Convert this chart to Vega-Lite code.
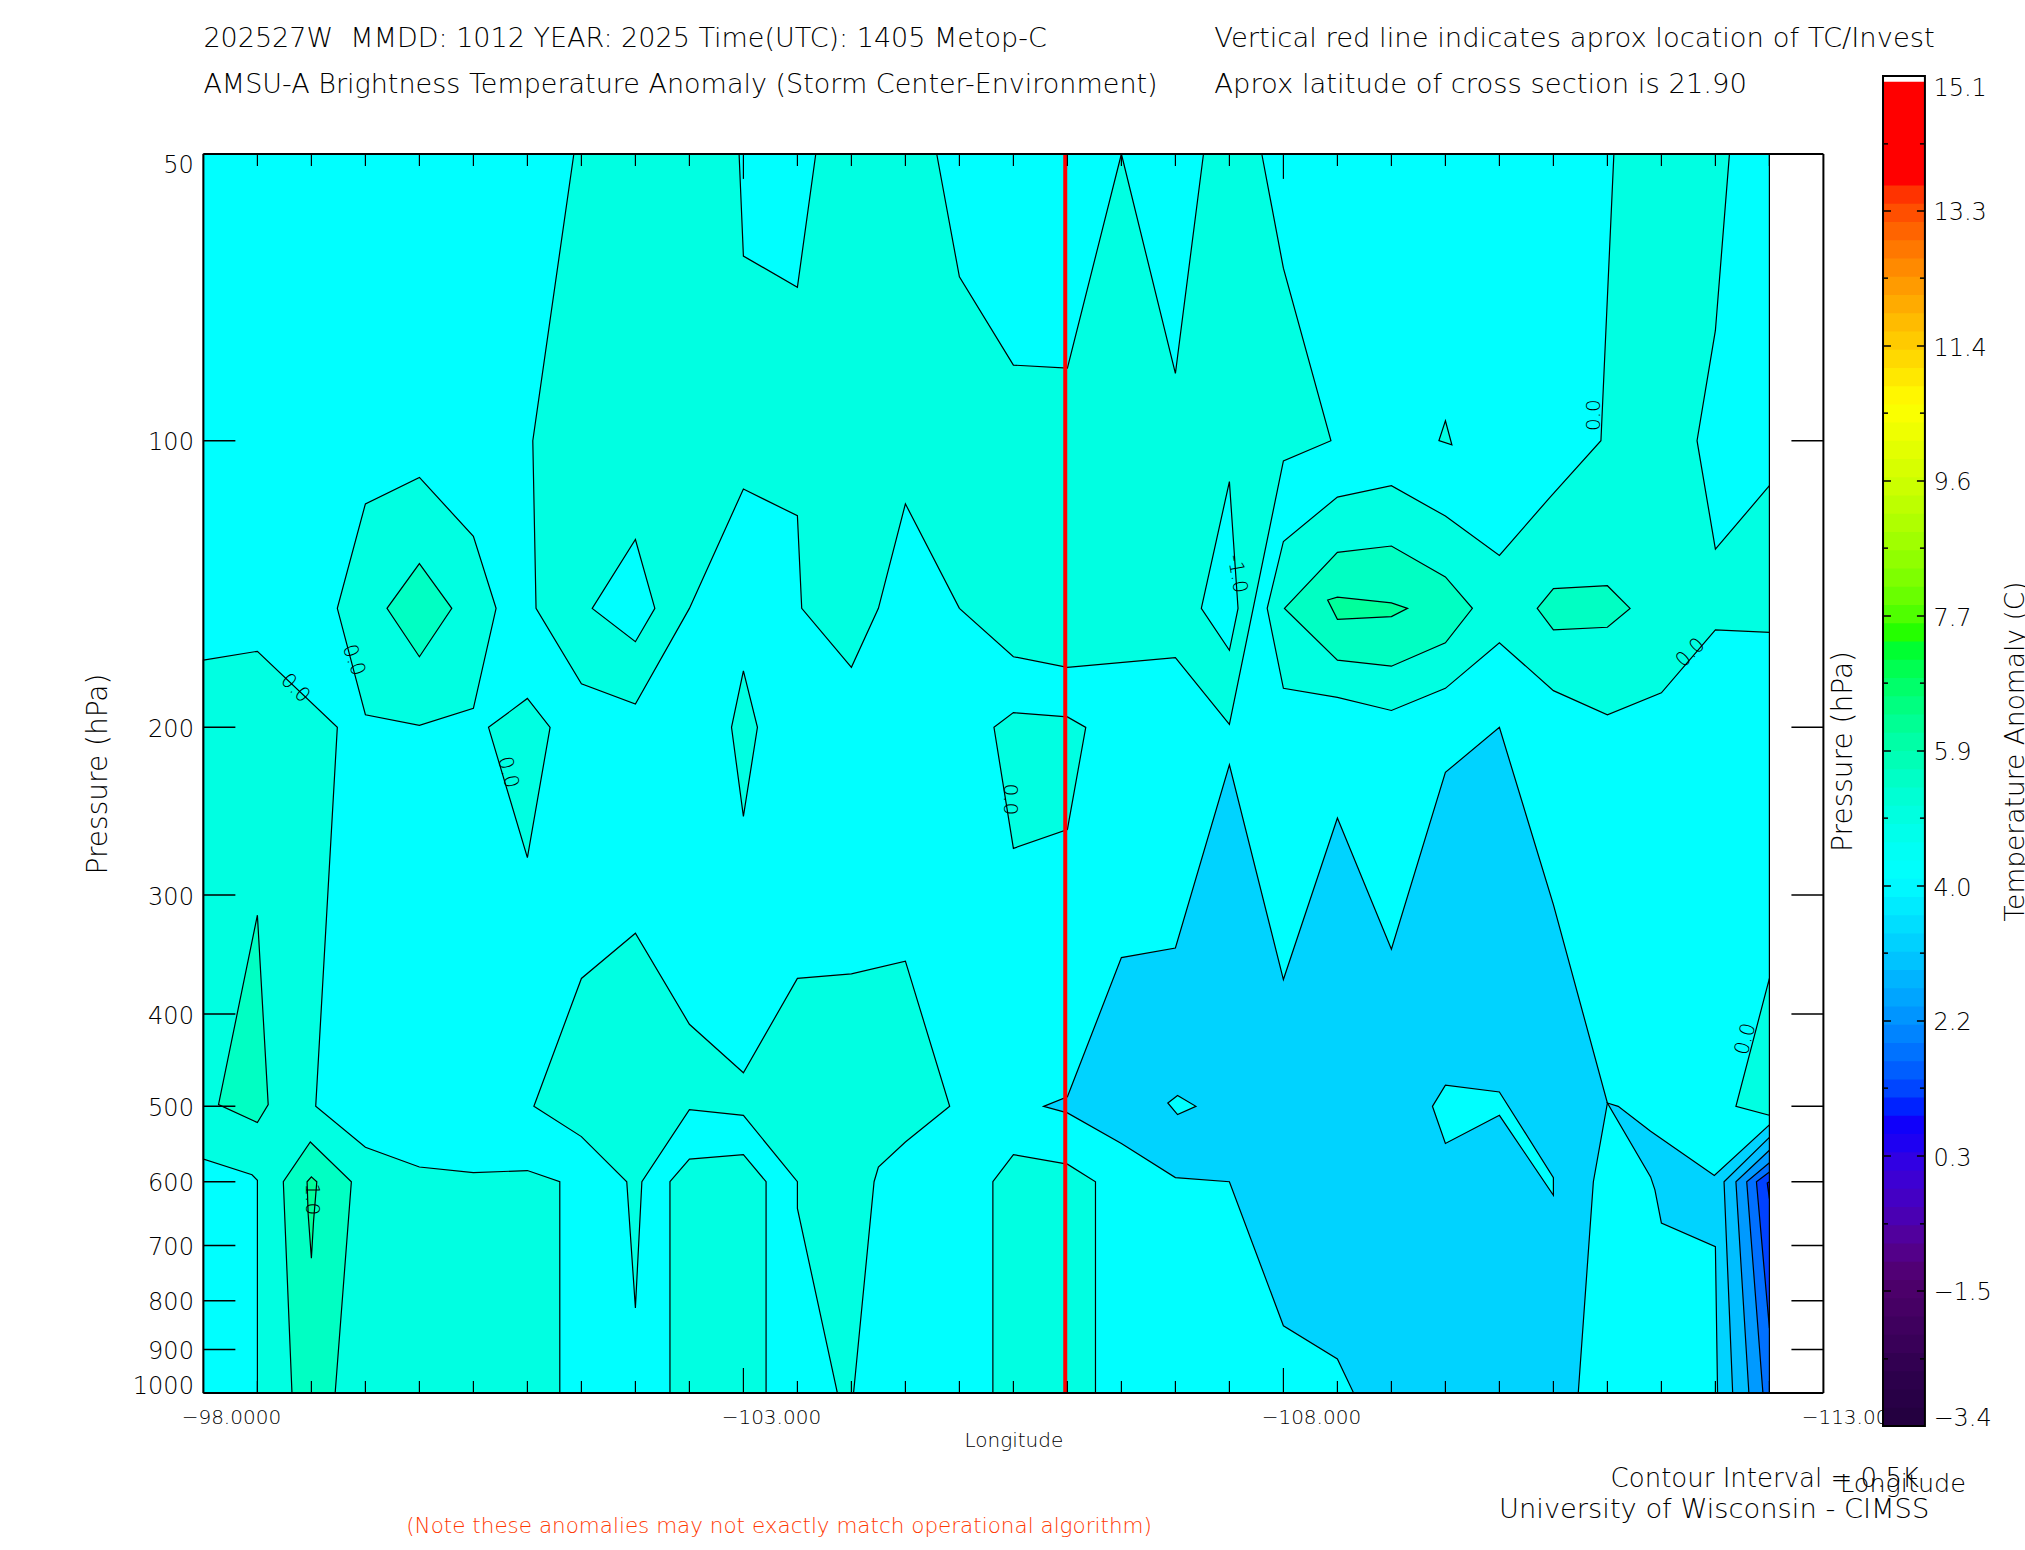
{
"$schema":"https://vega.github.io/schema/vega-lite/v6.json",
"width":1620,"height":1239,
"autosize":{"type":"none"},
"padding":{"left":203.4,"top":154,"right":201.6,"bottom":157},
"background":"white",
"config":{"font":"DejaVu Sans","view":{"stroke":null},"axis":{"labelFontWeight":200,"titleFontWeight":200,"labelColor":"#000","titleColor":"#000"},"text":{"fontWeight":200,"color":"#000"}},
"datasets":{
"polys":[
{"g":"base","t":4,"lon":-98,"p":50},{"g":"base","t":4,"lon":-112.5,"p":50},{"g":"base","t":4,"lon":-112.5,"p":1000},{"g":"base","t":4,"lon":-98,"p":1000},
{"g":"A","t":4.8,"lon":-98,"p":170},{"g":"A","t":4.8,"lon":-98.5,"p":166.4},{"g":"A","t":4.8,"lon":-99.24,"p":200},{"g":"A","t":4.8,"lon":-99.04,"p":500},{"g":"A","t":4.8,"lon":-99.5,"p":552},{"g":"A","t":4.8,"lon":-100,"p":579},{"g":"A","t":4.8,"lon":-100.5,"p":587},{"g":"A","t":4.8,"lon":-101,"p":584},{"g":"A","t":4.8,"lon":-101.3,"p":600},{"g":"A","t":4.8,"lon":-101.3,"p":1000},{"g":"A","t":4.8,"lon":-98.5,"p":1000},{"g":"A","t":4.8,"lon":-98.5,"p":598},{"g":"A","t":4.8,"lon":-98.45,"p":590},{"g":"A","t":4.8,"lon":-98,"p":568},
{"g":"a1","t":5.4,"lon":-98.5,"p":315},{"g":"a1","t":5.4,"lon":-98.6,"p":498},{"g":"a1","t":5.4,"lon":-98.5,"p":520},{"g":"a1","t":5.4,"lon":-98.14,"p":498},
{"g":"a2","t":5.4,"lon":-98.99,"p":545},{"g":"a2","t":5.4,"lon":-99.37,"p":600},{"g":"a2","t":5.4,"lon":-99.22,"p":1000},{"g":"a2","t":5.4,"lon":-98.82,"p":1000},{"g":"a2","t":5.4,"lon":-98.74,"p":600},
{"g":"a3","t":6,"lon":-99,"p":593},{"g":"a3","t":6,"lon":-99.05,"p":600},{"g":"a3","t":6,"lon":-99.02,"p":660},{"g":"a3","t":6,"lon":-99,"p":722},{"g":"a3","t":6,"lon":-98.97,"p":649},{"g":"a3","t":6,"lon":-98.96,"p":600},
{"g":"B","t":4.8,"lon":-101.43,"p":50},{"g":"B","t":4.8,"lon":-102.96,"p":50},{"g":"B","t":4.8,"lon":-103,"p":64},{"g":"B","t":4.8,"lon":-103.5,"p":69},{"g":"B","t":4.8,"lon":-103.67,"p":50},{"g":"B","t":4.8,"lon":-104.79,"p":50},{"g":"B","t":4.8,"lon":-105,"p":67.3},{"g":"B","t":4.8,"lon":-105.5,"p":83.3},{"g":"B","t":4.8,"lon":-106,"p":83.9},{"g":"B","t":4.8,"lon":-106.5,"p":50},{"g":"B","t":4.8,"lon":-107,"p":85},{"g":"B","t":4.8,"lon":-107.26,"p":50},{"g":"B","t":4.8,"lon":-107.8,"p":50},{"g":"B","t":4.8,"lon":-108,"p":65.9},{"g":"B","t":4.8,"lon":-108.44,"p":100},{"g":"B","t":4.8,"lon":-108,"p":105},{"g":"B","t":4.8,"lon":-107.5,"p":198.6},{"g":"B","t":4.8,"lon":-107,"p":169},{"g":"B","t":4.8,"lon":-106,"p":173},{"g":"B","t":4.8,"lon":-105.5,"p":168.6},{"g":"B","t":4.8,"lon":-105,"p":150},{"g":"B","t":4.8,"lon":-104.5,"p":116.5},{"g":"B","t":4.8,"lon":-104.25,"p":150},{"g":"B","t":4.8,"lon":-104,"p":173},{"g":"B","t":4.8,"lon":-103.54,"p":150},{"g":"B","t":4.8,"lon":-103.5,"p":119.9},{"g":"B","t":4.8,"lon":-103,"p":112.4},{"g":"B","t":4.8,"lon":-102.5,"p":150},{"g":"B","t":4.8,"lon":-102,"p":189},{"g":"B","t":4.8,"lon":-101.5,"p":180},{"g":"B","t":4.8,"lon":-101.08,"p":150},{"g":"B","t":4.8,"lon":-101.05,"p":100},
{"g":"h1","t":4,"lon":-102,"p":127},{"g":"h1","t":4,"lon":-102.18,"p":150},{"g":"h1","t":4,"lon":-102,"p":162.6},{"g":"h1","t":4,"lon":-101.6,"p":150},
{"g":"h2","t":4,"lon":-107.5,"p":110.4},{"g":"h2","t":4,"lon":-107.58,"p":150},{"g":"h2","t":4,"lon":-107.5,"p":166},{"g":"h2","t":4,"lon":-107.24,"p":150},
{"g":"s1","t":4.8,"lon":-109.5,"p":95.3},{"g":"s1","t":4.8,"lon":-109.56,"p":101},{"g":"s1","t":4.8,"lon":-109.44,"p":100},
{"g":"C","t":4.8,"lon":-100,"p":109.3},{"g":"C","t":4.8,"lon":-100.5,"p":126},{"g":"C","t":4.8,"lon":-100.71,"p":150},{"g":"C","t":4.8,"lon":-100.5,"p":191},{"g":"C","t":4.8,"lon":-100,"p":199},{"g":"C","t":4.8,"lon":-99.5,"p":194},{"g":"C","t":4.8,"lon":-99.24,"p":150},{"g":"C","t":4.8,"lon":-99.5,"p":116.5},
{"g":"C2","t":5.4,"lon":-100,"p":134.6},{"g":"C2","t":5.4,"lon":-100.3,"p":150},{"g":"C2","t":5.4,"lon":-100,"p":168.6},{"g":"C2","t":5.4,"lon":-99.7,"p":150},
{"g":"D","t":4.8,"lon":-101,"p":186.5},{"g":"D","t":4.8,"lon":-101.21,"p":200},{"g":"D","t":4.8,"lon":-101,"p":274},{"g":"D","t":4.8,"lon":-100.64,"p":200},
{"g":"E","t":4.8,"lon":-103,"p":174.5},{"g":"E","t":4.8,"lon":-103.13,"p":200},{"g":"E","t":4.8,"lon":-103,"p":248},{"g":"E","t":4.8,"lon":-102.89,"p":200},
{"g":"F","t":4.8,"lon":-105.5,"p":193},{"g":"F","t":4.8,"lon":-106,"p":195},{"g":"F","t":4.8,"lon":-106.17,"p":200},{"g":"F","t":4.8,"lon":-106,"p":256},{"g":"F","t":4.8,"lon":-105.5,"p":268},{"g":"F","t":4.8,"lon":-105.32,"p":200},
{"g":"G","t":4.8,"lon":-111.06,"p":50},{"g":"G","t":4.8,"lon":-110.94,"p":100},{"g":"G","t":4.8,"lon":-110.47,"p":114.6},{"g":"G","t":4.8,"lon":-110,"p":132},{"g":"G","t":4.8,"lon":-109.5,"p":120},{"g":"G","t":4.8,"lon":-109,"p":111.5},{"g":"G","t":4.8,"lon":-108.5,"p":114.6},{"g":"G","t":4.8,"lon":-108,"p":127.6},{"g":"G","t":4.8,"lon":-107.85,"p":150},{"g":"G","t":4.8,"lon":-108,"p":182},{"g":"G","t":4.8,"lon":-108.5,"p":186},{"g":"G","t":4.8,"lon":-109,"p":192},{"g":"G","t":4.8,"lon":-109.5,"p":182},{"g":"G","t":4.8,"lon":-110,"p":163},{"g":"G","t":4.8,"lon":-110.5,"p":183},{"g":"G","t":4.8,"lon":-111,"p":194},{"g":"G","t":4.8,"lon":-111.5,"p":184},{"g":"G","t":4.8,"lon":-112,"p":158},{"g":"G","t":4.8,"lon":-112.5,"p":159},{"g":"G","t":4.8,"lon":-112.5,"p":111.5},{"g":"G","t":4.8,"lon":-112,"p":130},{"g":"G","t":4.8,"lon":-111.83,"p":100},{"g":"G","t":4.8,"lon":-112,"p":76.6},{"g":"G","t":4.8,"lon":-112.13,"p":50},
{"g":"G2","t":5.4,"lon":-108.01,"p":150},{"g":"G2","t":5.4,"lon":-108.5,"p":131},{"g":"G2","t":5.4,"lon":-109,"p":129},{"g":"G2","t":5.4,"lon":-109.5,"p":139},{"g":"G2","t":5.4,"lon":-109.75,"p":150},{"g":"G2","t":5.4,"lon":-109.5,"p":163},{"g":"G2","t":5.4,"lon":-109,"p":172.5},{"g":"G2","t":5.4,"lon":-108.5,"p":170},
{"g":"G3","t":6,"lon":-108.41,"p":147},{"g":"G3","t":6,"lon":-108.5,"p":146},{"g":"G3","t":6,"lon":-109,"p":148},{"g":"G3","t":6,"lon":-109.15,"p":150},{"g":"G3","t":6,"lon":-109,"p":153},{"g":"G3","t":6,"lon":-108.5,"p":154},
{"g":"G4","t":5.4,"lon":-110.35,"p":150},{"g":"G4","t":5.4,"lon":-110.5,"p":143},{"g":"G4","t":5.4,"lon":-111,"p":142},{"g":"G4","t":5.4,"lon":-111.21,"p":150},{"g":"G4","t":5.4,"lon":-111,"p":157},{"g":"G4","t":5.4,"lon":-110.5,"p":158},
{"g":"H","t":4.8,"lon":-101.06,"p":500},{"g":"H","t":4.8,"lon":-101.5,"p":367},{"g":"H","t":4.8,"lon":-102,"p":329},{"g":"H","t":4.8,"lon":-102.5,"p":410},{"g":"H","t":4.8,"lon":-103,"p":461},{"g":"H","t":4.8,"lon":-103.5,"p":367},{"g":"H","t":4.8,"lon":-104,"p":363},{"g":"H","t":4.8,"lon":-104.5,"p":352},{"g":"H","t":4.8,"lon":-104.91,"p":500},{"g":"H","t":4.8,"lon":-104.5,"p":545},{"g":"H","t":4.8,"lon":-104.25,"p":579},{"g":"H","t":4.8,"lon":-104.21,"p":600},{"g":"H","t":4.8,"lon":-104.02,"p":1000},{"g":"H","t":4.8,"lon":-103.87,"p":1000},{"g":"H","t":4.8,"lon":-103.5,"p":640},{"g":"H","t":4.8,"lon":-103.5,"p":600},{"g":"H","t":4.8,"lon":-103,"p":511},{"g":"H","t":4.8,"lon":-102.5,"p":504},{"g":"H","t":4.8,"lon":-102.06,"p":600},{"g":"H","t":4.8,"lon":-102,"p":814},{"g":"H","t":4.8,"lon":-101.92,"p":600},{"g":"H","t":4.8,"lon":-101.5,"p":538},
{"g":"I","t":4.8,"lon":-102.32,"p":600},{"g":"I","t":4.8,"lon":-102.5,"p":568},{"g":"I","t":4.8,"lon":-103,"p":562},{"g":"I","t":4.8,"lon":-103.21,"p":600},{"g":"I","t":4.8,"lon":-103.21,"p":1000},{"g":"I","t":4.8,"lon":-102.32,"p":1000},
{"g":"J","t":4.8,"lon":-105.31,"p":600},{"g":"J","t":4.8,"lon":-105.5,"p":562},{"g":"J","t":4.8,"lon":-106,"p":575},{"g":"J","t":4.8,"lon":-106.26,"p":600},{"g":"J","t":4.8,"lon":-106.26,"p":1000},{"g":"J","t":4.8,"lon":-105.31,"p":1000},
{"g":"K","t":4.8,"lon":-112.5,"p":367},{"g":"K","t":4.8,"lon":-112.19,"p":500},{"g":"K","t":4.8,"lon":-112.5,"p":511},
{"g":"L1","t":3.15,"lon":-105.78,"p":500},{"g":"L1","t":3.15,"lon":-106,"p":488.6},{"g":"L1","t":3.15,"lon":-106.5,"p":349},{"g":"L1","t":3.15,"lon":-107,"p":341},{"g":"L1","t":3.15,"lon":-107.5,"p":219},{"g":"L1","t":3.15,"lon":-108,"p":368},{"g":"L1","t":3.15,"lon":-108.5,"p":249},{"g":"L1","t":3.15,"lon":-109,"p":342},{"g":"L1","t":3.15,"lon":-109.5,"p":223},{"g":"L1","t":3.15,"lon":-110,"p":200},{"g":"L1","t":3.15,"lon":-110.5,"p":307},{"g":"L1","t":3.15,"lon":-111,"p":496},{"g":"L1","t":3.15,"lon":-110.87,"p":600},{"g":"L1","t":3.15,"lon":-110.73,"p":1000},{"g":"L1","t":3.15,"lon":-108.65,"p":1000},{"g":"L1","t":3.15,"lon":-108.5,"p":921},{"g":"L1","t":3.15,"lon":-108,"p":850},{"g":"L1","t":3.15,"lon":-107.5,"p":600},{"g":"L1","t":3.15,"lon":-107,"p":594},{"g":"L1","t":3.15,"lon":-106.5,"p":547},{"g":"L1","t":3.15,"lon":-106,"p":508},
{"g":"Lh1","t":4,"lon":-109.38,"p":500},{"g":"Lh1","t":4,"lon":-109.5,"p":475},{"g":"Lh1","t":4,"lon":-110,"p":483},{"g":"Lh1","t":4,"lon":-110.5,"p":594},{"g":"Lh1","t":4,"lon":-110.5,"p":620},{"g":"Lh1","t":4,"lon":-110,"p":511},{"g":"Lh1","t":4,"lon":-109.5,"p":547},
{"g":"Lh2","t":4,"lon":-106.93,"p":496},{"g":"Lh2","t":4,"lon":-107.02,"p":487},{"g":"Lh2","t":4,"lon":-107.19,"p":500},{"g":"Lh2","t":4,"lon":-107.02,"p":510},
{"g":"L2","t":3.15,"lon":-111,"p":496},{"g":"L2","t":3.15,"lon":-111.1,"p":500},{"g":"L2","t":3.15,"lon":-111.4,"p":531},{"g":"L2","t":3.15,"lon":-111.99,"p":591},{"g":"L2","t":3.15,"lon":-112.5,"p":523},{"g":"L2","t":3.15,"lon":-112.5,"p":1000},{"g":"L2","t":3.15,"lon":-112.02,"p":1000},{"g":"L2","t":3.15,"lon":-112,"p":702},{"g":"L2","t":3.15,"lon":-111.5,"p":663},{"g":"L2","t":3.15,"lon":-111.44,"p":612},{"g":"L2","t":3.15,"lon":-111.4,"p":593},
{"g":"b2","t":2.79,"lon":-112.5,"p":539},{"g":"b2","t":2.79,"lon":-112.08,"p":600},{"g":"b2","t":2.79,"lon":-112.16,"p":1000},{"g":"b2","t":2.79,"lon":-112.5,"p":1000},
{"g":"b3","t":2.18,"lon":-112.5,"p":556},{"g":"b3","t":2.18,"lon":-112.19,"p":600},{"g":"b3","t":2.18,"lon":-112.31,"p":1000},{"g":"b3","t":2.18,"lon":-112.5,"p":1000},
{"g":"b4","t":1.57,"lon":-112.5,"p":573},{"g":"b4","t":1.57,"lon":-112.29,"p":600},{"g":"b4","t":1.57,"lon":-112.44,"p":1000},{"g":"b4","t":1.57,"lon":-112.5,"p":1000},
{"g":"b5","t":1.06,"lon":-112.5,"p":586},{"g":"b5","t":1.06,"lon":-112.38,"p":600},{"g":"b5","t":1.06,"lon":-112.5,"p":855},
{"g":"b6","t":0.75,"lon":-112.5,"p":600},{"g":"b6","t":0.75,"lon":-112.48,"p":602},{"g":"b6","t":0.75,"lon":-112.5,"p":625}
],
"xticks":[
{"lon":-98.5,"p":1000,"p2":971.4},{"lon":-99,"p":1000,"p2":971.4},{"lon":-99.5,"p":1000,"p2":971.4},{"lon":-100,"p":1000,"p2":971.4},{"lon":-100.5,"p":1000,"p2":971.4},{"lon":-101,"p":1000,"p2":971.4},{"lon":-101.5,"p":1000,"p2":971.4},{"lon":-102,"p":1000,"p2":971.4},{"lon":-102.5,"p":1000,"p2":971.4},{"lon":-103,"p":1000,"p2":941.3},{"lon":-103.5,"p":1000,"p2":971.4},{"lon":-104,"p":1000,"p2":971.4},{"lon":-104.5,"p":1000,"p2":971.4},{"lon":-105,"p":1000,"p2":971.4},{"lon":-105.5,"p":1000,"p2":971.4},{"lon":-106,"p":1000,"p2":971.4},{"lon":-106.5,"p":1000,"p2":971.4},{"lon":-107,"p":1000,"p2":971.4},{"lon":-107.5,"p":1000,"p2":971.4},{"lon":-108,"p":1000,"p2":941.3},{"lon":-108.5,"p":1000,"p2":971.4},{"lon":-109,"p":1000,"p2":971.4},{"lon":-109.5,"p":1000,"p2":971.4},{"lon":-110,"p":1000,"p2":971.4},{"lon":-110.5,"p":1000,"p2":971.4},{"lon":-111,"p":1000,"p2":971.4},{"lon":-111.5,"p":1000,"p2":971.4},{"lon":-112,"p":1000,"p2":971.4},{"lon":-112.5,"p":1000,"p2":971.4},
{"lon":-98.5,"p":50,"p2":51.47},{"lon":-99,"p":50,"p2":51.47},{"lon":-99.5,"p":50,"p2":51.47},{"lon":-100,"p":50,"p2":51.47},{"lon":-100.5,"p":50,"p2":51.47},{"lon":-101,"p":50,"p2":51.47},{"lon":-101.5,"p":50,"p2":51.47},{"lon":-102,"p":50,"p2":51.47},{"lon":-102.5,"p":50,"p2":51.47},{"lon":-103,"p":50,"p2":53.1},{"lon":-103.5,"p":50,"p2":51.47},{"lon":-104,"p":50,"p2":51.47},{"lon":-104.5,"p":50,"p2":51.47},{"lon":-105,"p":50,"p2":51.47},{"lon":-105.5,"p":50,"p2":51.47},{"lon":-106,"p":50,"p2":51.47},{"lon":-106.5,"p":50,"p2":51.47},{"lon":-107,"p":50,"p2":51.47},{"lon":-107.5,"p":50,"p2":51.47},{"lon":-108,"p":50,"p2":53.1},{"lon":-108.5,"p":50,"p2":51.47},{"lon":-109,"p":50,"p2":51.47},{"lon":-109.5,"p":50,"p2":51.47},{"lon":-110,"p":50,"p2":51.47},{"lon":-110.5,"p":50,"p2":51.47},{"lon":-111,"p":50,"p2":51.47},{"lon":-111.5,"p":50,"p2":51.47},{"lon":-112,"p":50,"p2":51.47},{"lon":-112.5,"p":50,"p2":51.47}
],
"yticks":[
{"lon":-98,"lon2":-98.296,"p":100},{"lon":-98,"lon2":-98.296,"p":200},{"lon":-98,"lon2":-98.296,"p":300},{"lon":-98,"lon2":-98.296,"p":400},{"lon":-98,"lon2":-98.296,"p":500},{"lon":-98,"lon2":-98.296,"p":600},{"lon":-98,"lon2":-98.296,"p":700},{"lon":-98,"lon2":-98.296,"p":800},{"lon":-98,"lon2":-98.296,"p":900},
{"lon":-113,"lon2":-112.704,"p":100},{"lon":-113,"lon2":-112.704,"p":200},{"lon":-113,"lon2":-112.704,"p":300},{"lon":-113,"lon2":-112.704,"p":400},{"lon":-113,"lon2":-112.704,"p":500},{"lon":-113,"lon2":-112.704,"p":600},{"lon":-113,"lon2":-112.704,"p":700},{"lon":-113,"lon2":-112.704,"p":800},{"lon":-113,"lon2":-112.704,"p":900}
],
"barticks":[
{"v":13.25,"lon":-113.552,"lon2":-113.626},{"v":11.4,"lon":-113.552,"lon2":-113.626},{"v":9.55,"lon":-113.552,"lon2":-113.626},{"v":7.7,"lon":-113.552,"lon2":-113.626},{"v":5.85,"lon":-113.552,"lon2":-113.626},{"v":4,"lon":-113.552,"lon2":-113.626},{"v":2.15,"lon":-113.552,"lon2":-113.626},{"v":0.3,"lon":-113.552,"lon2":-113.626},{"v":-1.55,"lon":-113.552,"lon2":-113.626},
{"v":13.25,"lon":-113.94,"lon2":-113.866},{"v":11.4,"lon":-113.94,"lon2":-113.866},{"v":9.55,"lon":-113.94,"lon2":-113.866},{"v":7.7,"lon":-113.94,"lon2":-113.866},{"v":5.85,"lon":-113.94,"lon2":-113.866},{"v":4,"lon":-113.94,"lon2":-113.866},{"v":2.15,"lon":-113.94,"lon2":-113.866},{"v":0.3,"lon":-113.94,"lon2":-113.866},{"v":-1.55,"lon":-113.94,"lon2":-113.866},
{"v":14.17,"lon":-113.552,"lon2":-113.598},{"v":12.33,"lon":-113.552,"lon2":-113.598},{"v":10.48,"lon":-113.552,"lon2":-113.598},{"v":8.63,"lon":-113.552,"lon2":-113.598},{"v":6.78,"lon":-113.552,"lon2":-113.598},{"v":4.93,"lon":-113.552,"lon2":-113.598},{"v":3.08,"lon":-113.552,"lon2":-113.598},{"v":1.23,"lon":-113.552,"lon2":-113.598},{"v":-0.63,"lon":-113.552,"lon2":-113.598},{"v":-2.48,"lon":-113.552,"lon2":-113.598},
{"v":14.17,"lon":-113.94,"lon2":-113.894},{"v":12.33,"lon":-113.94,"lon2":-113.894},{"v":10.48,"lon":-113.94,"lon2":-113.894},{"v":8.63,"lon":-113.94,"lon2":-113.894},{"v":6.78,"lon":-113.94,"lon2":-113.894},{"v":4.93,"lon":-113.94,"lon2":-113.894},{"v":3.08,"lon":-113.94,"lon2":-113.894},{"v":1.23,"lon":-113.94,"lon2":-113.894},{"v":-0.63,"lon":-113.94,"lon2":-113.894},{"v":-2.48,"lon":-113.94,"lon2":-113.894}
]
},
"layer":[
{"encoding":{
"x":{"field":"lon","type":"quantitative","scale":{"domain":[-98,-113],"nice":false,"zero":false},"axis":{"values":[-98,-103,-108,-113],"title":"Longitude","titleFontSize":20,"titlePadding":3,"labelFontSize":20,"labelPadding":14,"labelOffset":27.5,"labelExpr":"datum.value == -98 ? '−98.0000' : format(datum.value,'.3f')","ticks":false,"domain":false,"grid":false,"labelOverlap":false,"labelFlush":false,"labelBound":false}},
"y":{"field":"p","type":"quantitative","scale":{"type":"log","domain":[50,1000],"nice":false,"reverse":true},"axis":{"values":[50,100,200,300,400,500,600,700,800,900,1000],"format":"d","title":"Pressure (hPa)","titleFontSize":28,"titlePadding":20,"labelFontSize":24,"labelPadding":10,"labelOffset":2,"labelFlush":true,"labelFlushOffset":3,"ticks":false,"domain":false,"grid":false,"labelOverlap":false,"labelBound":false}}
},
"layer":[
{"data":{"name":"polys"},"mark":{"type":"line","interpolate":"linear-closed","stroke":"black","strokeWidth":1.2},"encoding":{"detail":{"field":"g"},"order":{"value":null},"fill":{"field":"t","type":"quantitative","legend":null,"scale":{"domain":[-3.4,-1.5,-0.6,0.3,0.75,4,7.27,10.46,13.57,15.1],"range":["#000000","#50006e","#4800b8","#2000f0","#0000ff","#00ffff","#00ff00","#ffff00","#ff0000","#ff0000"]}}}},
{"data":{"values":[{"lon":-105.98,"p":50,"p2":1000}]},"mark":{"type":"rule","color":"#ff0000","strokeWidth":4},"encoding":{"y2":{"field":"p2"}}},
{"data":{"name":"xticks"},"mark":{"type":"rule","color":"black","strokeWidth":1.2},"encoding":{"y2":{"field":"p2"}}},
{"data":{"name":"yticks"},"mark":{"type":"rule","color":"black","strokeWidth":1.5},"encoding":{"x2":{"field":"lon2"}}},
{"data":{"values":[{"lon":-98,"p":50,"p2":1000},{"lon":-113,"p":50,"p2":1000}]},"mark":{"type":"rule","color":"black","strokeWidth":2},"encoding":{"y2":{"field":"p2"}}},
{"data":{"values":[{"lon":-98,"lon2":-113,"p":50},{"lon":-98,"lon2":-113,"p":1000}]},"mark":{"type":"rule","color":"black","strokeWidth":2},"encoding":{"x2":{"field":"lon2"}}},
{"data":{"values":[{"lon":-98.85,"p":182,"s":"0.0","a":45},{"lon":-99.39,"p":170,"s":"0.0","a":70},{"lon":-100.82,"p":223,"s":"0.0","a":75},{"lon":-105.47,"p":238,"s":"0.0","a":90},{"lon":-110.88,"p":94,"s":"0.0","a":270},{"lon":-111.77,"p":167,"s":"0.0","a":315},{"lon":-112.28,"p":425,"s":"0.0","a":285},{"lon":-107.57,"p":138,"s":"-1.0","a":80},{"lon":-99.01,"p":626,"s":"1.0","a":90}]},"mark":{"type":"text","fontSize":20,"baseline":"middle","align":"center"},"encoding":{"text":{"field":"s"},"angle":{"field":"a","type":"quantitative","scale":null}}},
{"data":{"values":[{"lon":-98,"p":37.85,"s":"202527W\u00a0 MMDD: 1012 YEAR: 2025 Time(UTC): 1405 Metop-C"},{"lon":-98,"p":42.35,"s":"AMSU-A Brightness Temperature Anomaly (Storm Center-Environment)"}]},"mark":{"type":"text","fontSize":27,"baseline":"middle","align":"left"},"encoding":{"text":{"field":"s"}}},
{"data":{"values":[{"lon":-107.36,"p":37.85,"s":"Vertical red line indicates aprox location of TC/Invest"},{"lon":-107.36,"p":42.35,"s":"Aprox latitude of cross section is 21.90"}]},"mark":{"type":"text","fontSize":27.4,"baseline":"middle","align":"left"},"encoding":{"text":{"field":"s"}}},
{"data":{"values":[{"lon":-113.885,"p":1230,"s":"Contour Interval = 0.5K"}]},"mark":{"type":"text","fontSize":26,"baseline":"middle","align":"right"},"encoding":{"text":{"field":"s"}}},
{"data":{"values":[{"lon":-113.98,"p":1327,"s":"University of Wisconsin - CIMSS"}]},"mark":{"type":"text","fontSize":27.3,"baseline":"middle","align":"right"},"encoding":{"text":{"field":"s"}}},
{"data":{"values":[{"lon":-113.737,"p":1246,"s":"Longitude"}]},"mark":{"type":"text","fontSize":25.5,"baseline":"middle","align":"center"},"encoding":{"text":{"field":"s"}}},
{"data":{"values":[{"lon":-113.19,"p":212,"s":"Pressure (hPa)"}]},"mark":{"type":"text","fontSize":28,"baseline":"middle","align":"center","angle":270},"encoding":{"text":{"field":"s"}}},
{"data":{"values":[{"lon":-103.33,"p":1382,"s":"(Note these anomalies may not exactly match operational algorithm)"}]},"mark":{"type":"text","fontSize":21.5,"baseline":"middle","align":"center","color":"#ff3800"},"encoding":{"text":{"field":"s"}}}
]},
{"encoding":{
"y":{"field":"v","type":"quantitative","scale":{"domain":[-3.4,15.1],"range":[1272,-78],"nice":false,"zero":false},"axis":{"orient":"right","offset":101.5,"values":[15.1,13.251,11.4,9.551,7.7,5.851,4,2.151,0.3,-1.549,-3.4],"format":".1f","title":"Temperature Anomaly (C)","titleAngle":270,"titleFontSize":26.5,"titlePadding":38,"labelFontSize":24,"labelPadding":8,"labelOffset":2,"labelFlush":true,"labelFlushOffset":2,"ticks":false,"domain":false,"grid":false,"labelOverlap":false,"labelBound":false}}
},
"layer":[
{"data":{"values":[{"v":-3.4,"v2":-3.1},{"v":-3.15,"v2":-2.85},{"v":-2.9,"v2":-2.6},{"v":-2.65,"v2":-2.35},{"v":-2.4,"v2":-2.1},{"v":-2.15,"v2":-1.85},{"v":-1.9,"v2":-1.6},{"v":-1.65,"v2":-1.35},{"v":-1.4,"v2":-1.1},{"v":-1.15,"v2":-0.85},{"v":-0.9,"v2":-0.6},{"v":-0.65,"v2":-0.35},{"v":-0.4,"v2":-0.1},{"v":-0.15,"v2":0.15},{"v":0.1,"v2":0.4},{"v":0.35,"v2":0.65},{"v":0.6,"v2":0.9},{"v":0.85,"v2":1.15},{"v":1.1,"v2":1.4},{"v":1.35,"v2":1.65},{"v":1.6,"v2":1.9},{"v":1.85,"v2":2.15},{"v":2.1,"v2":2.4},{"v":2.35,"v2":2.65},{"v":2.6,"v2":2.9},{"v":2.85,"v2":3.15},{"v":3.1,"v2":3.4},{"v":3.35,"v2":3.65},{"v":3.6,"v2":3.9},{"v":3.85,"v2":4.15},{"v":4.1,"v2":4.4},{"v":4.35,"v2":4.65},{"v":4.6,"v2":4.9},{"v":4.85,"v2":5.15},{"v":5.1,"v2":5.4},{"v":5.35,"v2":5.65},{"v":5.6,"v2":5.9},{"v":5.85,"v2":6.15},{"v":6.1,"v2":6.4},{"v":6.35,"v2":6.65},{"v":6.6,"v2":6.9},{"v":6.85,"v2":7.15},{"v":7.1,"v2":7.4},{"v":7.35,"v2":7.65},{"v":7.6,"v2":7.9},{"v":7.85,"v2":8.15},{"v":8.1,"v2":8.4},{"v":8.35,"v2":8.65},{"v":8.6,"v2":8.9},{"v":8.85,"v2":9.15},{"v":9.1,"v2":9.4},{"v":9.35,"v2":9.65},{"v":9.6,"v2":9.9},{"v":9.85,"v2":10.15},{"v":10.1,"v2":10.4},{"v":10.35,"v2":10.65},{"v":10.6,"v2":10.9},{"v":10.85,"v2":11.15},{"v":11.1,"v2":11.4},{"v":11.35,"v2":11.65},{"v":11.6,"v2":11.9},{"v":11.85,"v2":12.15},{"v":12.1,"v2":12.4},{"v":12.35,"v2":12.65},{"v":12.6,"v2":12.9},{"v":12.85,"v2":13.15},{"v":13.1,"v2":13.4},{"v":13.35,"v2":13.65},{"v":13.6,"v2":13.9},{"v":13.85,"v2":14.15},{"v":14.1,"v2":14.4},{"v":14.35,"v2":14.65},{"v":14.6,"v2":14.9},{"v":14.85,"v2":15.02}]},"mark":{"type":"rect"},"encoding":{"x":{"datum":-113.552,"type":"quantitative","scale":{"domain":[-98,-113],"nice":false,"zero":false},"axis":null},"x2":{"datum":-113.94},"y2":{"field":"v2"},"fill":{"field":"v","type":"quantitative","legend":null,"scale":{"domain":[-3.4,-1.5,-0.6,0.3,0.75,4,7.27,10.46,13.57,15.1],"range":["#000000","#50006e","#4800b8","#2000f0","#0000ff","#00ffff","#00ff00","#ffff00","#ff0000","#ff0000"]}}}},
{"data":{"name":"barticks"},"mark":{"type":"rule","color":"black","strokeWidth":1.5},"encoding":{"x":{"field":"lon","type":"quantitative","scale":{"domain":[-98,-113],"nice":false,"zero":false},"axis":null},"x2":{"field":"lon2"}}},
{"data":{"values":[{"v":-3.4,"v2":15.1}]},"mark":{"type":"rect","fill":null,"stroke":"black","strokeWidth":2},"encoding":{"x":{"datum":-113.552,"type":"quantitative","scale":{"domain":[-98,-113],"nice":false,"zero":false},"axis":null},"x2":{"datum":-113.94},"y2":{"field":"v2"}}}
]}
],
"resolve":{"scale":{"y":"independent"},"axis":{"y":"independent","x":"independent"}}
}
